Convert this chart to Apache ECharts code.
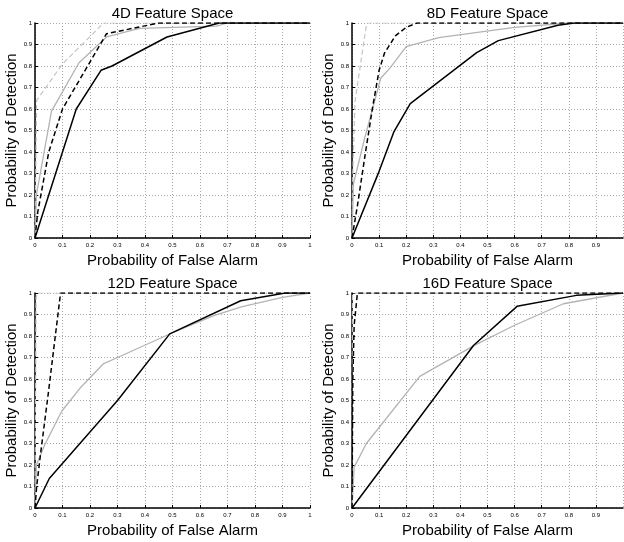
<!DOCTYPE html>
<html>
<head>
<meta charset="utf-8">
<script src="https://cdn.jsdelivr.net/npm/echarts@6/dist/echarts.min.js"></script>
<style>
  html, body { margin: 0; padding: 0; background: #fff; }
  #chart { width: 624px; height: 542px; }
</style>
</head>
<body>
<div id="chart"></div>
<script>
// panel titles
let titles = ["4D Feature Space", "8D Feature Space", "12D Feature Space", "16D Feature Space"];

// [false alarm, detection] pairs
let d4BlackSolid = [[0, 0], [0.15, 0.6], [0.24, 0.78], [0.28, 0.8], [0.48, 0.935], [0.67, 1], [1, 1]];
let d4BlackDash = [[0, 0], [0.01, 0.12], [0.05, 0.4], [0.1, 0.6], [0.26, 0.95], [0.45, 1], [1, 1]];
let d4GraySolid = [[0, 0], [0.005, 0.2], [0.06, 0.59], [0.16, 0.815], [0.26, 0.935], [0.38, 0.975], [0.66, 0.985], [0.7, 1], [1, 1]];
let d4GrayDash = [[0, 0], [0.006, 0.64], [0.1, 0.81], [0.25, 1], [1, 1]];

let d8BlackSolid = [[0, 0], [0.1, 0.31], [0.155, 0.495], [0.215, 0.625], [0.46, 0.862], [0.54, 0.918], [0.76, 0.99], [0.82, 1], [1, 1]];
let d8BlackDash = [[0, 0], [0.02, 0.15], [0.05, 0.4], [0.075, 0.6], [0.1, 0.78], [0.12, 0.86], [0.16, 0.94], [0.2, 0.98], [0.24, 1], [1, 1]];
let d8GraySolid = [[0, 0], [0.005, 0.25], [0.048, 0.47], [0.106, 0.743], [0.14, 0.79], [0.2, 0.89], [0.32, 0.932], [0.6, 0.98], [0.8, 1], [1, 1]];
let d8GrayDash = [[0, 0], [0.003, 0.3], [0.011, 0.634], [0.054, 1], [1, 1]];

let d12BlackSolid = [[0, 0], [0.052, 0.137], [0.3, 0.5], [0.49, 0.81], [0.748, 0.964], [0.91, 1], [1, 1]];
let d12BlackDash = [[0, 0], [0.006, 0.1], [0.02, 0.25], [0.048, 0.53], [0.093, 1], [1, 1]];
let d12GraySolid = [[0, 0], [0.005, 0.2], [0.036, 0.295], [0.097, 0.45], [0.164, 0.558], [0.248, 0.67], [0.3, 0.7], [0.5, 0.815], [0.65, 0.895], [0.75, 0.935], [0.9, 0.98], [1, 1]];
let d12GrayDash = [[0, 0], [0.004, 0.98], [0.01, 1], [1, 1]];

let d16BlackSolid = [[0, 0], [0.449, 0.757], [0.609, 0.938], [0.828, 0.989], [1, 1]];
let d16BlackDash = [[0, 0], [0.003, 0.6], [0.008, 0.85], [0.02, 1], [1, 1]];
let d16GraySolid = [[0, 0], [0.008, 0.19], [0.053, 0.3], [0.25, 0.612], [0.45, 0.755], [0.6, 0.85], [0.78, 0.95], [1, 1]];
let d16GrayDash = [[0, 0], [0.002, 1], [1, 1]];

let panels = [
  [d4BlackSolid, d4BlackDash, d4GraySolid, d4GrayDash],
  [d8BlackSolid, d8BlackDash, d8GraySolid, d8GrayDash],
  [d12BlackSolid, d12BlackDash, d12GraySolid, d12GrayDash],
  [d16BlackSolid, d16BlackDash, d16GraySolid, d16GrayDash]
];

let grids = [
  { left: 35, width: 275, top: 23, height: 215 },
  { left: 352, width: 271, top: 23, height: 215 },
  { left: 35, width: 275, top: 293, height: 215 },
  { left: 352, width: 271, top: 293, height: 215 }
];

let styles = [
  { color: "#000", width: 1.5, type: "solid" },
  { color: "#000", width: 1.5, type: [5, 3] },
  { color: "#b3b3b3", width: 1.3, type: "solid" },
  { color: "#c4c4c4", width: 1.2, type: [5, 3] }
];

let font = "Liberation Sans, Arial, sans-serif";
let dotted = { color: "#a8a8a8", width: 1, type: [1, 2] };

let myChart = echarts.init(document.getElementById("chart"), null, { renderer: "canvas" });

let option = {
  backgroundColor: "#fff",
  animation: false,
  title: titles.map(function(t, i) {
    return {
      text: t,
      left: grids[i].left + grids[i].width / 2,
      top: grids[i].top - 17,
      textAlign: "center",
      padding: 0,
      textStyle: { fontFamily: font, fontSize: 15, fontWeight: "normal", color: "#000" }
    };
  }),
  grid: grids,
  xAxis: grids.map(function(g, i) {
    return {
      type: "value",
      gridIndex: i,
      min: 0,
      max: 1,
      interval: 0.1,
      name: "Probability of False Alarm",
      nameLocation: "middle",
      nameGap: 15,
      nameTextStyle: { fontFamily: font, fontSize: 15, color: "#000" },
      axisLine: { show: true, lineStyle: { color: "#000", width: 1.5 } },
      axisTick: { show: true, inside: true, length: 3, lineStyle: { color: "#000" } },
      axisLabel: { fontFamily: font, fontSize: 6, color: "#000", margin: 4, showMaxLabel: i % 2 == 0 },
      splitLine: { show: true, lineStyle: dotted }
    };
  }),
  yAxis: grids.map(function(g, i) {
    return {
      type: "value",
      gridIndex: i,
      min: 0,
      max: 1,
      interval: 0.1,
      name: "Probability of Detection",
      nameLocation: "middle",
      nameGap: 12,
      nameRotate: 90,
      nameTextStyle: { fontFamily: font, fontSize: 15, color: "#000" },
      axisLine: { show: true, lineStyle: { color: "#000", width: 1.5 } },
      axisTick: { show: true, inside: true, length: 3, lineStyle: { color: "#000" } },
      axisLabel: { fontFamily: font, fontSize: 6, color: "#000", margin: 3 },
      splitLine: { show: true, lineStyle: dotted }
    };
  }),
  series: []
};

panels.forEach(function(list, i) {
  // draw gray first so black sits on top
  [3, 2, 1, 0].forEach(function(k) {
    option.series.push({
      type: "line",
      xAxisIndex: i,
      yAxisIndex: i,
      data: list[k],
      showSymbol: false,
      symbol: "none",
      lineStyle: styles[k],
      z: 3
    });
  });
});

myChart.setOption(option, true);
</script>
</body>
</html>
